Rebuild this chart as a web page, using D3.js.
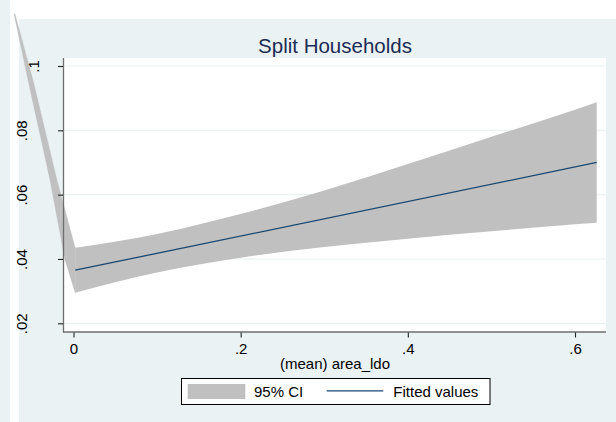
<!DOCTYPE html>
<html><head><meta charset="utf-8">
<script src="https://cdn.jsdelivr.net/npm/d3@7"></script>
<style>
body{margin:0;background:#fff}
svg text{font-family:"Liberation Sans", Arial, Helvetica, sans-serif}
</style>
</head><body><svg id="c" width="616" height="422"></svg>
<script>
// ---- data ----
const title = "Split Households";
const xLabel = "(mean) area_ldo";
const xTicks = [0, 0.2, 0.4, 0.6];
const xTickLabels = ["0", ".2", ".4", ".6"];
const yTicks = [0.02, 0.04, 0.06, 0.08, 0.1];
const yTickLabels = [".02", ".04", ".06", ".08", ".1"];
const fitX = [0.002, 0.626];
const fitY = [0.0365, 0.0700];
const ciX     = [0.002, 0.1,    0.2,    0.3,    0.4,    0.5,    0.6,    0.626];
const ciUpper = [0.0435, 0.0478, 0.0540, 0.0613, 0.0695, 0.0780, 0.0864, 0.0887];
const ciLower = [0.0295, 0.0358, 0.0404, 0.0437, 0.0463, 0.0486, 0.0508, 0.0513];
// stray spike of the CI area running off to the upper left
const spikeUpperX = [-0.0700, -0.0484, -0.0197];
const spikeUpperY = [0.1162, 0.0956, 0.0645];
const spikeLowerX = [-0.0102, -0.0281, -0.0544, -0.0712];
const spikeLowerY = [0.0397, 0.0645, 0.0956, 0.1162];
const legendLabels = ["95% CI", "Fitted values"];

// ---- drawing ----
const svg = d3.select("#c");
const bgBlue = "#eaf2f3";
const navy = "#1a476f";
const ciFill = "#c0c0c0";

// page backgrounds
svg.append("rect").attr("x",0).attr("y",0).attr("width",616).attr("height",422).attr("fill","#fff");
svg.append("rect").attr("x",0).attr("y",0).attr("width",10).attr("height",422).attr("fill",bgBlue);
svg.append("rect").attr("x",19).attr("y",19).attr("width",597).attr("height",403).attr("fill",bgBlue);

const plot = {l:64, r:606, t:58, b:332};
svg.append("rect").attr("x",plot.l).attr("y",plot.t).attr("width",plot.r-plot.l).attr("height",plot.b-plot.t).attr("fill","#fff");

const x = d3.scaleLinear().domain([0, 0.6]).range([73.5, 575]);
const y = d3.scaleLinear().domain([0.02, 0.1]).range([323.3, 66]);

// gridlines
svg.append("g").selectAll("line").data(yTicks).join("line")
  .attr("x1",plot.l).attr("x2",plot.r)
  .attr("y1",d=>y(d)).attr("y2",d=>y(d))
  .attr("stroke",bgBlue).attr("stroke-width",1.2);

// CI band (smooth edges)
const band = ciX.map((v,i)=>({x:v, lo:ciLower[i], hi:ciUpper[i]}));
svg.append("path")
  .attr("d", d3.area().curve(d3.curveMonotoneX)
     .x(d=>x(d.x)).y0(d=>y(d.lo)).y1(d=>y(d.hi))(band))
  .attr("fill", ciFill).attr("stroke","none");

// spike part of the CI area
const pts = [];
spikeUpperX.forEach((v,i)=>pts.push([v, spikeUpperY[i]]));
pts.push([ciX[0], ciUpper[0]]);
pts.push([ciX[0], ciLower[0]]);
spikeLowerX.forEach((v,i)=>pts.push([v, spikeLowerY[i]]));
svg.append("path")
  .attr("d", d3.line().x(d=>x(d[0])).y(d=>y(d[1]))(pts) + "Z")
  .attr("fill", ciFill).attr("stroke",ciFill).attr("stroke-width",0.3);

// fitted line
svg.append("path")
  .attr("d", d3.line().x(d=>x(d[0])).y(d=>y(d[1]))(fitX.map((v,i)=>[v,fitY[i]])))
  .attr("fill","none").attr("stroke",navy).attr("stroke-width",1.3);

// axis lines
svg.append("line").attr("x1",63.5).attr("x2",63.5).attr("y1",plot.t).attr("y2",plot.b+0.5)
  .attr("stroke","#6e6e6e").attr("stroke-width",1.3);
svg.append("line").attr("x1",63).attr("x2",plot.r).attr("y1",332).attr("y2",332)
  .attr("stroke","#6e6e6e").attr("stroke-width",1.3);

// x axis
const xAxis = d3.axisBottom(x).tickValues(xTicks).tickSize(5).tickPadding(5)
  .tickFormat((d,i)=>xTickLabels[i]);
const gx = svg.append("g").attr("transform","translate(0,332.5)").call(xAxis);
gx.select(".domain").remove();
gx.selectAll(".tick line").attr("stroke","#222").attr("stroke-width",1.1);
gx.selectAll(".tick text").attr("font-size",15).attr("fill","#000")
  .attr("font-family",null).attr("dy",null).attr("y",21.5);

// y axis
const yAxis = d3.axisLeft(y).tickValues(yTicks).tickSize(5)
  .tickFormat((d,i)=>yTickLabels[i]);
const gy = svg.append("g").attr("transform","translate(63,0)").call(yAxis);
gy.select(".domain").remove();
gy.selectAll(".tick line").attr("stroke","#222").attr("stroke-width",1.1);
gy.selectAll(".tick text")
  .attr("font-family",null).attr("font-size",15).attr("fill","#000")
  .attr("dy",null).attr("x",null)
  .attr("text-anchor","middle")
  .attr("transform",(d,i)=> `translate(${yTickLabels[i]===".1" ? -24 : -36.5},0) rotate(-90)`);

// title
svg.append("text").attr("x",335).attr("y",52.5).attr("text-anchor","middle")
  .attr("font-size",20.5).attr("fill","#1c2c55").text(title);

// x axis title
svg.append("text").attr("x",335).attr("y",368.5).attr("text-anchor","middle")
  .attr("font-size",15).attr("fill","#000").text(xLabel);

// legend
const lg = svg.append("g");
lg.append("rect").attr("x",181.5).attr("y",378.5).attr("width",308.5).attr("height",26)
  .attr("fill","#fff").attr("stroke","#000").attr("stroke-width",1);
lg.append("rect").attr("x",187.7).attr("y",384).attr("width",57.6).attr("height",15).attr("fill",ciFill);
lg.append("text").attr("x",254).attr("y",397).attr("font-size",15).attr("fill","#000").text(legendLabels[0]);
lg.append("line").attr("x1",326.7).attr("x2",383.3).attr("y1",390.8).attr("y2",390.8)
  .attr("stroke",navy).attr("stroke-width",1.3);
lg.append("text").attr("x",393.3).attr("y",397).attr("font-size",15).attr("fill","#000").text(legendLabels[1]);
</script>
</body></html>
